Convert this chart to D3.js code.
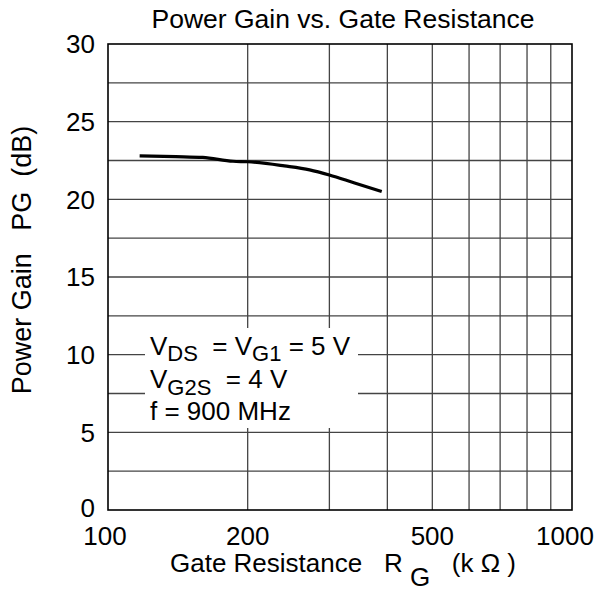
<!DOCTYPE html>
<html>
<head>
<meta charset="utf-8">
<script src="https://cdn.jsdelivr.net/npm/d3@7"></script>
<style>
  body { margin: 0; background: #fff; }
  text { font-family: "Liberation Sans", Arial, sans-serif; fill: #000; white-space: pre; }
</style>
</head>
<body>
<script>
// data
const resistance = [117, 140, 160, 186, 200, 240, 272, 300, 340, 389];
const powerGain = [22.8, 22.75, 22.7, 22.45, 22.42, 22.15, 21.9, 21.57, 21.05, 20.5];

const xTickValues = [100, 200, 500, 1000];
const xGridValues = [200, 300, 400, 500, 600, 700, 800, 900];
const yTickValues = [0, 5, 10, 15, 20, 25, 30];
const yGridValues = [2.5, 5, 7.5, 10, 12.5, 15, 17.5, 20, 22.5, 25, 27.5];

const w = 605;
const h = 595;
const plotL = 108, plotR = 572, plotT = 44, plotB = 510;
const fs = 26;
const subFs = 22;

const xScale = d3.scaleLog()
                 .domain([100, 1000])
                 .range([plotL, plotR]);

const yScale = d3.scaleLinear()
                 .domain([0, 30])
                 .range([plotB, plotT]);

const svg = d3.select("body")
              .append("svg")
              .attr("width", w)
              .attr("height", h);

// grid
svg.append("g")
   .selectAll("line")
   .data(yGridValues)
   .join("line")
   .attr("x1", plotL).attr("x2", plotR)
   .attr("y1", d => yScale(d)).attr("y2", d => yScale(d))
   .attr("stroke", "#444").attr("stroke-width", 1.3);

svg.append("g")
   .selectAll("line")
   .data(xGridValues)
   .join("line")
   .attr("x1", d => xScale(d)).attr("x2", d => xScale(d))
   .attr("y1", plotT).attr("y2", plotB)
   .attr("stroke", "#444").attr("stroke-width", 1.3);

// white box behind the conditions text
svg.append("rect")
   .attr("x", 145).attr("y", 328)
   .attr("width", 213).attr("height", 100)
   .attr("fill", "#fff");

// frame
svg.append("rect")
   .attr("x", plotL).attr("y", plotT)
   .attr("width", plotR - plotL).attr("height", plotB - plotT)
   .attr("fill", "none")
   .attr("stroke", "#000").attr("stroke-width", 1.6);

// curve
const line = d3.line()
               .curve(d3.curveMonotoneX)
               .x((d, i) => xScale(resistance[i]))
               .y(d => yScale(d));

svg.append("path")
   .datum(powerGain)
   .attr("d", line)
   .attr("fill", "none")
   .attr("stroke", "#000")
   .attr("stroke-width", 3.2);

// tick labels
svg.append("g")
   .selectAll("text")
   .data(yTickValues)
   .join("text")
   .attr("x", 95)
   .attr("y", d => yScale(d) - (d == 0 ? 2 : 0))
   .attr("dy", "0.36em")
   .attr("text-anchor", "end")
   .style("font-size", fs + "px")
   .text(d => d);

svg.append("g")
   .selectAll("text")
   .data(xTickValues)
   .join("text")
   .attr("x", d => xScale(d) - (d == 1000 ? 7 : d == 100 ? 3 : 0))
   .attr("y", 545)
   .attr("text-anchor", "middle")
   .style("font-size", fs + "px")
   .text(d => d);

// title
svg.append("text")
   .attr("x", (plotL + plotR) / 2 + 3).attr("y", 28)
   .attr("text-anchor", "middle")
   .style("font-size", "26.5px")
   .text("Power Gain vs. Gate Resistance");

// x axis label
const xl = svg.append("text")
   .attr("x", 170).attr("y", 572)
   .style("font-size", fs + "px");
xl.append("tspan").text("Gate Resistance   R ");
xl.append("tspan").attr("dy", 14).text("G");
xl.append("tspan").attr("dy", -14).text("   (k \u03A9 )");

// y axis label
svg.append("text")
   .attr("transform", "translate(31,260) rotate(-90)")
   .attr("text-anchor", "middle")
   .style("font-size", "27px")
   .text("Power Gain   PG  (dB)");

// conditions
const cond = svg.append("g").style("font-size", fs + "px");
const l1 = cond.append("text").attr("x", 150).attr("y", 355);
l1.append("tspan").text("V");
l1.append("tspan").attr("dy", 6).style("font-size", subFs + "px").text("DS");
l1.append("tspan").attr("dy", -6).text("  = V");
l1.append("tspan").attr("dy", 6).style("font-size", subFs + "px").text("G1");
l1.append("tspan").attr("dy", -6).text(" = 5 V");

const l2 = cond.append("text").attr("x", 150).attr("y", 388);
l2.append("tspan").text("V");
l2.append("tspan").attr("dy", 7).style("font-size", subFs + "px").text("G2S");
l2.append("tspan").attr("dy", -7).text("  = 4 V");

cond.append("text").attr("x", 150).attr("y", 420).text("f = 900 MHz");
</script>
</body>
</html>
